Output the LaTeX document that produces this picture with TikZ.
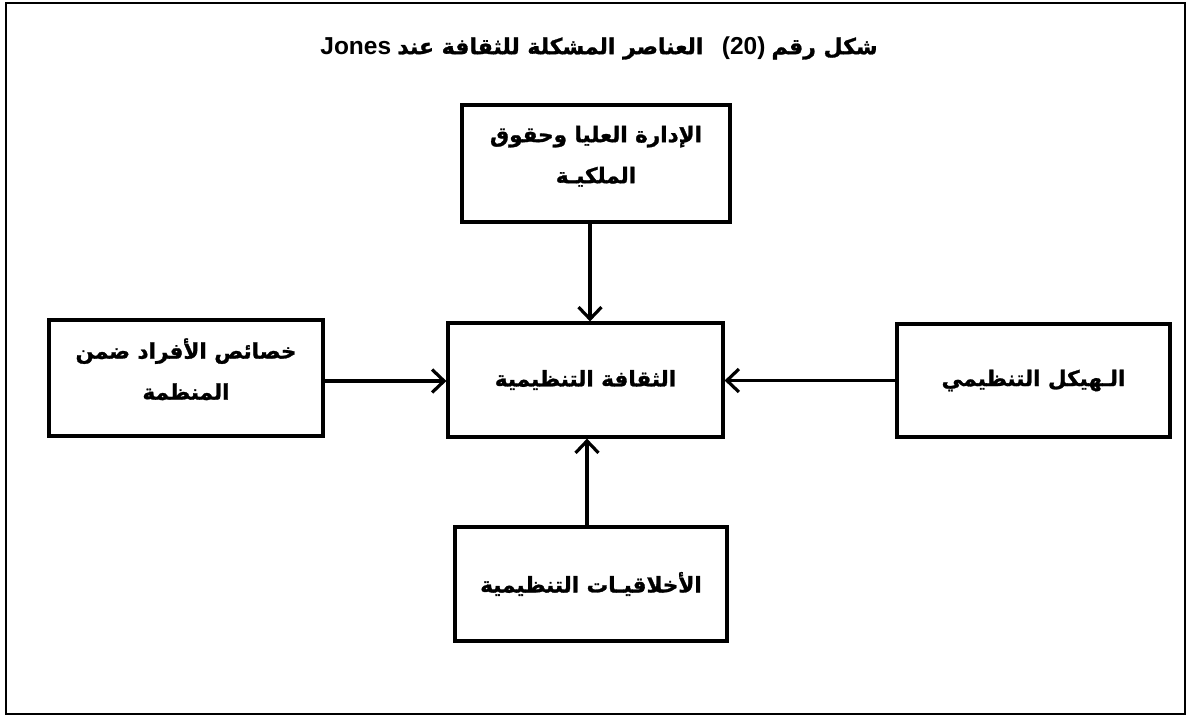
\documentclass[tikz,border=0pt]{standalone}
\usepackage{fontspec}
\usetikzlibrary{arrows.meta}
\setmainfont{Liberation Sans}
\newfontfamily\arabicfont[Script=Arabic,BoldFeatures={FakeBold=1.2}]{DejaVu Sans}
\TeXXeTstate=1
\newcommand{\ar}[1]{{\arabicfont\beginR #1\endR}}
\newcommand{\lat}[1]{{\fontsize{24.5}{26}\selectfont #1}}
\begin{document}
\begin{tikzpicture}[x=1pt,y=-1pt,
  box/.style={draw,line width=3.2pt,inner sep=0pt,align=center,
    font=\fontsize{21.5}{41}\selectfont\bfseries},
  twoline/.style={text depth=18pt},
  arr/.style={line width=3.2pt,-{Straight Barb[length=12pt,width=23pt]}},
  ttl/.style={font=\fontsize{22}{26}\selectfont\bfseries}]
\useasboundingbox (0,0) rectangle (1189,716);
\draw[line width=1.5pt] (6,3) rectangle (1185,714);

% caption
\node[ttl] (title) at (599,48)
  {\lat{Jones}\ \ar{العناصر المشكلة للثقافة عند}\ \ \ \lat{(20)}\ \ar{شكل رقم}};

% boxes
\node[box,twoline,minimum width=268pt,minimum height=117pt] (top) at (596,163.5)
  {\ar{الإدارة العليا وحقوق}\\\ar{الملكيـة}};
\node[box,minimum width=275pt,minimum height=114pt] (mid) at (585.5,380)
  {\ar{الثقافة التنظيمية}};
\node[box,twoline,minimum width=274pt,minimum height=116pt] (left) at (186,378)
  {\ar{خصائص الأفراد ضمن}\\\ar{المنظمة}};
\node[box,minimum width=273pt,minimum height=113pt] (right) at (1033.5,380.5)
  {\ar{الـهيكل التنظيمي}};
\node[box,minimum width=272pt,minimum height=114pt] (bot) at (591,584)
  {\ar{الأخلاقيـات التنظيمية}};

% connectors into the central box
\draw[arr] ([xshift=-6pt]top.south) -- ([xshift=-6pt]top.south |- mid.north);
\draw[arr] ([xshift=-4pt]bot.north) -- ([xshift=-4pt]bot.north |- mid.south);
\draw[arr] ([yshift=-3pt]left.east) -- ([yshift=-3pt]left.east -| mid.west);
\draw[arr] (right.west) -- (right.west -| mid.east);
\end{tikzpicture}
\end{document}
